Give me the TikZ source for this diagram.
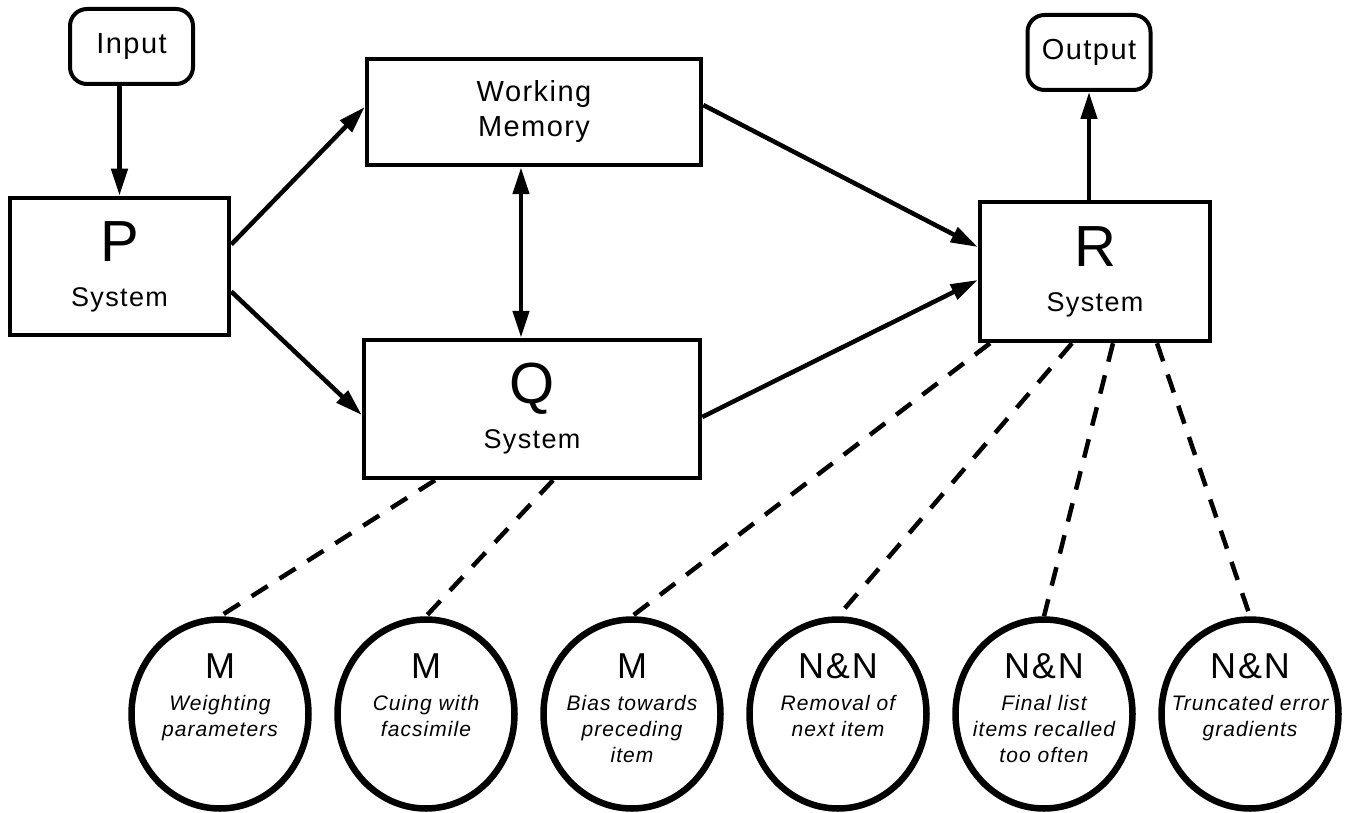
\documentclass[tikz,border=0pt]{standalone}
\usepackage{fontspec}
\setmainfont{Liberation Sans}[LetterSpace=5]
\usetikzlibrary{positioning,arrows.meta,shapes.geometric,calc}
\newcommand{\sysletter}{\fontsize{58}{58}\selectfont}
\newcommand{\effletter}{\fontsize{36}{36}\selectfont\upshape}
\tikzset{
  sysbox/.style={draw,line width=4.5pt,align=center,inner sep=0pt,
    font=\fontsize{27}{45}\selectfont},
  iobox/.style={draw,rounded corners=17pt,line width=4pt,minimum width=123pt,
    minimum height=75pt,inner sep=0pt,font=\fontsize{29}{36}\selectfont},
  effnode/.style={ellipse,draw,line width=6.5pt,minimum width=177pt,
    minimum height=189pt,inner sep=0pt},
  efftxt/.style={anchor=north,align=center,inner sep=0pt,
    font=\fontsize{21}{26}\selectfont\itshape},
  flow/.style={-{Triangle[length=27pt,width=16pt]},line width=4.5pt},
  dflow/.style={{Triangle[length=27pt,width=16pt]}-{Triangle[length=27pt,width=16pt]},
    line width=4.5pt},
  link/.style={line width=4.5pt,dash pattern=on 19pt off 14pt},
}

\begin{document}
\begin{tikzpicture}[x=1pt,y=-1pt]
  \useasboundingbox (0,0) rectangle (1347,813);
  \node[iobox] (In) at (131.5,46.5) {Input};
  \node[iobox] (Out) at (1089,52.5) {Output};
  \node[sysbox,minimum width=219pt,minimum height=137pt] (P) at (119.5,266.5)
    {{\sysletter P}\\System};
  \node[sysbox,minimum width=334pt,minimum height=106pt,
    font=\fontsize{29}{35}\selectfont] (WM) at (534,112) {Working\\Memory};
  \node[sysbox,minimum width=336pt,minimum height=138pt] (Q) at (532,409)
    {{\sysletter Q}\\System};
  \node[sysbox,minimum width=230pt,minimum height=139pt] (R) at (1095,271.5)
    {{\sysletter R}\\System};

  \node[effnode] (m1) at (220,714) {};
  \node[effnode,right=22.5pt of m1] (m2) {};
  \node[effnode,right=22.5pt of m2] (m3) {};
  \node[effnode,right=22.5pt of m3] (n1) {};
  \node[effnode,right=22.5pt of n1] (n2) {};
  \node[effnode,right=22.5pt of n2] (n3) {};
  \node[efftxt] (m1t) at ([yshift=-37pt]m1.north) {{\effletter M}\\[6pt]Weighting\\parameters};
  \node[efftxt] (m2t) at ([yshift=-37pt]m2.north) {{\effletter M}\\[6pt]Cuing with\\facsimile};
  \node[efftxt] (m3t) at ([yshift=-37pt]m3.north) {{\effletter M}\\[6pt]Bias towards\\preceding\\item};
  \node[efftxt] (n1t) at ([yshift=-37pt]n1.north) {{\effletter N\&N}\\[6pt]Removal of\\next item};
  \node[efftxt] (n2t) at ([yshift=-37pt]n2.north) {{\effletter N\&N}\\[6pt]Final list\\items recalled\\too often};
  \node[efftxt] (n3t) at ([yshift=-37pt]n3.north) {{\effletter N\&N}\\[6pt]Truncated error\\gradients};

  \draw[flow] (In.south -| P.north) -- (P.north);
  \draw[flow] ([yshift=22pt]P.east) -- ([yshift=5pt]WM.west);
  \draw[flow] ([yshift=-25pt]P.east) -- ([yshift=-6pt]Q.west);
  \draw[dflow] ([xshift=-13pt]WM.south) -- ([xshift=-13pt]WM.south |- Q.north);
  \draw[flow] ([yshift=7pt]WM.east) -- ([yshift=24.5pt]R.west);
  \draw[flow] ([yshift=-8pt]Q.east) -- ([yshift=-8.5pt]R.west);
  \draw[flow] (Out.south |- R.north) -- (Out.south);

  \draw[link] ([xshift=-97pt]Q.south) -- (m1.north);
  \draw[link] ([xshift=21pt]Q.south) -- (m2.north);
  \draw[link] ([xshift=-105pt]R.south) -- (m3.north);
  \draw[link] ([xshift=-23pt]R.south) -- (n1.north);
  \draw[link] ([xshift=18pt]R.south) -- (n2.north);
  \draw[link] ([xshift=62pt]R.south) -- (n3.north);
\end{tikzpicture}
\end{document}
